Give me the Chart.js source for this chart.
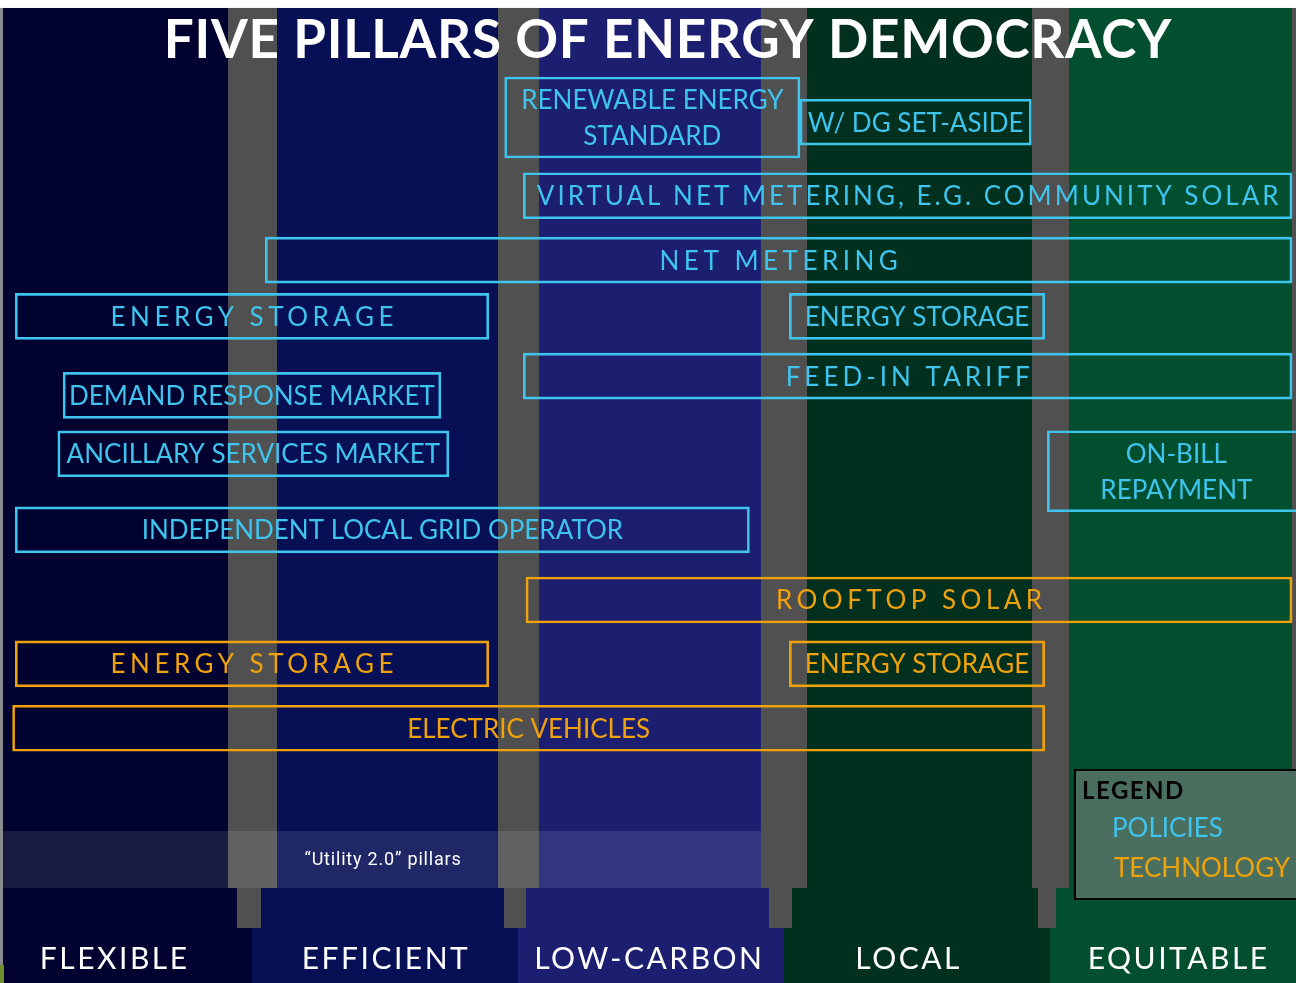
<!DOCTYPE html>
<html><head><meta charset="utf-8">
<script src="https://cdn.jsdelivr.net/npm/chart.js@4/dist/chart.umd.min.js"></script>
<style>html,body{margin:0;padding:0;background:#fff;overflow:hidden}
#wrap{position:absolute;left:0;top:0;width:1296px;height:983px}</style>
</head><body>
<div id="wrap"><canvas id="c" width="1296" height="983"></canvas></div>
<script>
// ================= DATA =================
const chartTitle = 'FIVE PILLARS OF ENERGY DEMOCRACY';
const pillarNames = ['FLEXIBLE', 'EFFICIENT', 'LOW-CARBON', 'LOCAL', 'EQUITABLE'];
const bandLabel = '\u201CUtility 2.0\u201D pillars';
const legendTitle = 'LEGEND';
const legendItems = ['POLICIES', 'TECHNOLOGY'];

// extents in pillar units (0 = left edge of FLEXIBLE, 5 = right edge of EQUITABLE), rows top->bottom
const policyLabels = ['W/ DG SET-ASIDE', 'VIRTUAL NET METERING, E.G. COMMUNITY SOLAR', 'NET METERING',
  'ENERGY STORAGE', 'ENERGY STORAGE', 'FEED-IN TARIFF', 'DEMAND RESPONSE MARKET',
  'ANCILLARY SERVICES MARKET', 'INDEPENDENT LOCAL GRID OPERATOR'];
const policyFrom = [3.06, 2.02, 1.05, 0.11, 3.02, 2.02, 0.29, 0.27, 0.11];
const policyTo   = [3.93, 4.91, 4.91, 1.89, 3.98, 4.91, 1.71, 1.74, 2.87];
const policyRow  = [0.64, 1.91, 3.02, 3.99, 3.99, 5.02, 5.35, 6.36, 7.67];

const policy2Labels = [['RENEWABLE ENERGY', 'STANDARD'], ['ON-BILL', 'REPAYMENT']];
const policy2From = [1.95, 3.99];
const policy2To   = [3.06, 4.96];
const policy2Row  = [0.56, 6.66];

const techLabels = ['ROOFTOP SOLAR', 'ENERGY STORAGE', 'ENERGY STORAGE', 'ELECTRIC VEHICLES'];
const techFrom = [2.03, 0.11, 3.02, 0.10];
const techTo   = [4.91, 1.89, 3.98, 3.98];
const techRow  = [8.88, 9.98, 9.98, 11.09];

// ================= STYLE =================
const CYAN = '#3fc4ee', ORANGE = '#f0a20c';
const FONT = 'Lato';
// letter spacing (px) per label; larger = "tracked" style
const policySpacing = [0, 3, 4.5, 4.5, 0, 4, 0, 0, 0];
const policy2Spacing = [0, 0];
const techSpacing = [4.5, 4.5, 0, 0];
const nameCenters = [0.48, 1.50, 2.49, 3.465, 4.48];
const colTop = ['#010230', '#070f55', '#1c1f70', '#01301e', '#024f2f'];
const PILLAR = '#505050';
const pillarW = [49, 41, 46, 37];
const stubW = [24, 22, 23, 18];

function pts(from, to, row) { return from.map((f, i) => ({ x: [f, to[i]], y: row[i] })); }

const bgPlugin = {
  id: 'bg',
  beforeDatasetsDraw(chart) {
    const ctx = chart.ctx, xs = chart.scales.x, ys = chart.scales.y;
    const top = ys.getPixelForValue(-1.328), bandT = ys.getPixelForValue(12.862),
          bandB = ys.getPixelForValue(13.845), stubB = ys.getPixelForValue(14.534),
          bot = ys.getPixelForValue(15.483);
    const left = 3, right = 1292;
    ctx.save();
    ctx.fillStyle = '#fff'; ctx.fillRect(0, 0, 1296, 983);
    ctx.fillStyle = '#8a8a8a'; ctx.fillRect(0, top, left, bot - top);
    const cuts = [left, 1, 2, 3, 4].map((v, i) => i === 0 ? left : xs.getPixelForValue(v));
    cuts.push(1296);
    for (let i = 0; i < 5; i++) {
      ctx.fillStyle = colTop[i];
      ctx.fillRect(cuts[i], top, cuts[i + 1] - cuts[i], bot - top);
    }
    ctx.fillStyle = PILLAR; ctx.fillRect(right, top, 1296 - right, bandB - top);
    for (let k = 1; k <= 4; k++) {
      const cx = xs.getPixelForValue(k);
      ctx.fillStyle = PILLAR;
      ctx.fillRect(Math.round(cx - pillarW[k - 1] / 2), top, pillarW[k - 1], bandB - top);
      ctx.fillRect(Math.round(cx - stubW[k - 1] / 2 - 3), bandB, stubW[k - 1], stubB - bandB);
    }
    ctx.fillStyle = 'rgba(255,255,255,0.1)';
    ctx.fillRect(left, bandT, xs.getPixelForValue(3) - 23 - left, bandB - bandT);
    ctx.fillStyle = '#ffffff';
    ctx.font = '18px Roboto';
    ctx.letterSpacing = '0.8px';
    ctx.textAlign = 'center'; ctx.textBaseline = 'middle';
    ctx.fillText(bandLabel, 383, (bandT + bandB) / 2 + 1);
    ctx.letterSpacing = '0px';
    ctx.fillStyle = '#6f8f2f'; ctx.fillRect(0, 965, 4, 18);
    ctx.restore();
  },
  afterDatasetsDraw(chart) {
    const ctx = chart.ctx, xs = chart.scales.x;
    ctx.save();
    ctx.textAlign = 'center'; ctx.textBaseline = 'middle';
    chart.data.datasets.forEach((ds, di) => {
      const meta = chart.getDatasetMeta(di);
      meta.data.forEach((el, i) => {
        const cx = (el.x + el.base) / 2, cy = el.y;
        const sp = ds.spacing[i];
        ctx.fillStyle = ds.textColor;
        ctx.font = '26px ' + FONT;
        ctx.letterSpacing = sp + 'px';
        const lab = ds.labelsText[i];
        const lines = Array.isArray(lab) ? lab : [lab];
        const lh = 36;
        lines.forEach((ln, j) => {
          ctx.fillText(ln, cx + sp / 2, cy + (j - (lines.length - 1) / 2) * lh + 1);
        });
      });
    });
    // title
    ctx.fillStyle = '#ffffff';
    ctx.font = 'bold 53px ' + FONT;
    ctx.letterSpacing = '0.7px';
    ctx.fillText(chartTitle, 668, 41);
    // pillar names
    ctx.font = '30px ' + FONT;
    ctx.letterSpacing = '2.5px';
    pillarNames.forEach((n, i) => {
      ctx.fillText(n, xs.getPixelForValue(nameCenters[i]) + 1, 959);
    });
    ctx.letterSpacing = '0px';
    // legend
    ctx.fillStyle = '#4b6f5f';
    ctx.fillRect(1075, 770, 240, 129);
    ctx.strokeStyle = '#000'; ctx.lineWidth = 2;
    ctx.strokeRect(1075, 770, 240, 129);
    ctx.textAlign = 'left';
    ctx.fillStyle = '#000'; ctx.font = 'bold 24px ' + FONT;
    ctx.letterSpacing = '1.5px';
    ctx.fillText(legendTitle, 1082, 791);
    ctx.font = '26px ' + FONT; ctx.letterSpacing = '0px';
    ctx.fillStyle = CYAN; ctx.fillText(legendItems[0], 1112, 829);
    ctx.fillStyle = ORANGE; ctx.fillText(legendItems[1], 1114, 869);
    ctx.restore();
  }
};

const boxDefaults = {
  backgroundColor: 'rgba(0,0,0,0)', borderWidth: 2, borderSkipped: false,
  grouped: false, barPercentage: 1, categoryPercentage: 1
};

new Chart(document.getElementById('c'), {
  type: 'bar',
  data: {
    datasets: [
      Object.assign({ label: 'Policies', data: pts(policyFrom, policyTo, policyRow), labelsText: policyLabels,
        spacing: policySpacing, borderColor: CYAN, textColor: CYAN, barThickness: 46 }, boxDefaults),
      Object.assign({ label: 'Policies (2 lines)', data: pts(policy2From, policy2To, policy2Row), labelsText: policy2Labels,
        spacing: policy2Spacing, borderColor: CYAN, textColor: CYAN, barThickness: 81 }, boxDefaults),
      Object.assign({ label: 'Technology', data: pts(techFrom, techTo, techRow), labelsText: techLabels,
        spacing: techSpacing, borderColor: ORANGE, textColor: ORANGE, barThickness: 46 }, boxDefaults)
    ]
  },
  options: {
    indexAxis: 'y', responsive: false, animation: false, events: [],
    layout: { padding: 0 },
    plugins: { legend: { display: false }, tooltip: { enabled: false }, title: { display: false } },
    scales: {
      x: { type: 'linear', min: 14 / 266, max: 1310 / 266, display: false, offset: false },
      y: { type: 'linear', min: -85 / 58, max: 898 / 58, reverse: true, display: false, offset: false }
    }
  },
  plugins: [bgPlugin]
});
</script>
</body></html>
